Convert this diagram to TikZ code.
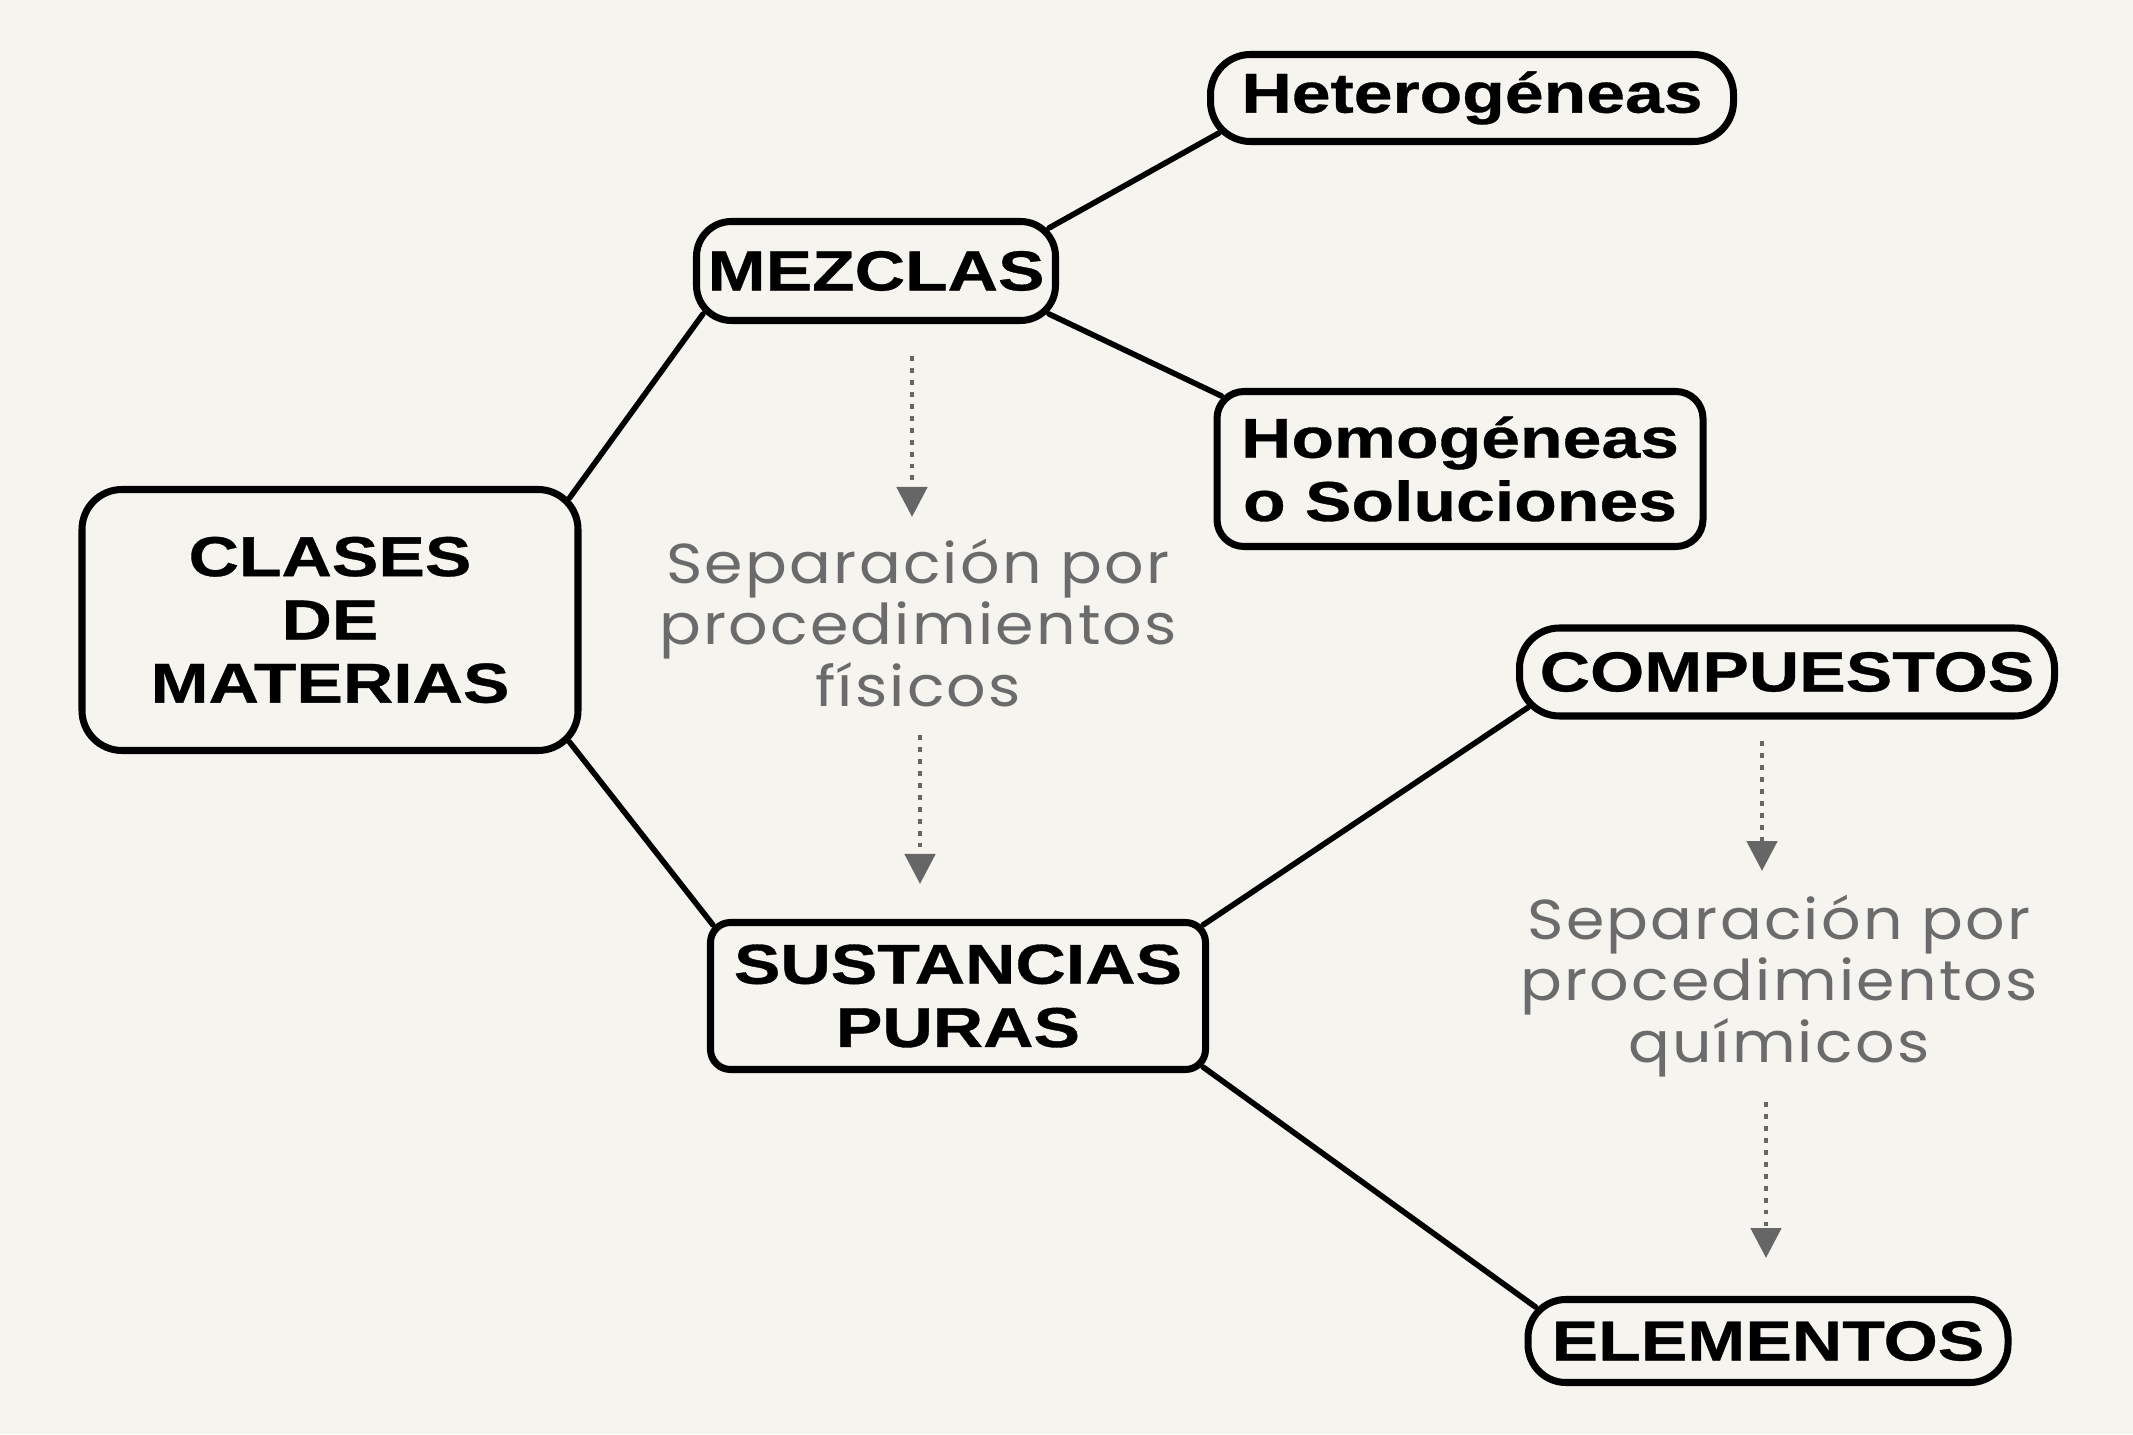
\documentclass[tikz,border=0pt]{standalone}
\usepackage{fontspec}
\setmainfont{Liberation Sans}
\newfontfamily\boxfont[FakeStretch=1.24,FakeBold=0.6]{Liberation Sans}
\newfontfamily\sepfont[FakeStretch=1.1,LetterSpace=4]{Poppins}
\usetikzlibrary{arrows.meta,calc}
\definecolor{paper}{RGB}{246,244,239}
\tikzset{
  concept/.style={draw=black,line width=2pt,fill=paper,align=center,inner sep=0pt,
    font=\boxfont\bfseries\fontsize{16}{18}\selectfont},
  link/.style={draw=black,line width=1.6pt,line cap=round},
  septext/.style={align=center,text=black!58,font=\sepfont\fontsize{16}{17.6}\selectfont},
  separrow/.style={draw=black!60,line width=1.4pt,dotted,-{Triangle[length=3mm,width=3mm]}}
}

\begin{document}
\begin{tikzpicture}
  % paper
  \fill[paper] (0,0) rectangle (21.33,14.34);
  \useasboundingbox (0,0) rectangle (21.33,14.34);
  % boxes
  \node (clases) [concept, rounded corners=4mm, minimum width=4.96cm, minimum height=2.61cm] at (3.30,8.14) {CLASES\\DE\\MATERIAS};
  \node (mezclas) [concept, rounded corners=3.5mm, minimum width=3.59cm, minimum height=0.99cm] at (8.76,11.63) {MEZCLAS};
  \node (hetero) [concept, rounded corners=4mm, minimum width=5.23cm, minimum height=0.87cm] at (14.72,13.36) {Heterogéneas};
  \node (homo) [concept, rounded corners=2.7mm, minimum width=4.86cm, minimum height=1.55cm] at (14.60,9.65) {Homogéneas\\o Soluciones};
  \node (sustancias) [concept, rounded corners=2mm, minimum width=4.95cm, minimum height=1.47cm] at (9.58,4.38) {SUSTANCIAS\\PURAS};
  \node (compuestos) [concept, rounded corners=4mm, minimum width=5.35cm, minimum height=0.88cm] at (17.87,7.62) {COMPUESTOS};
  \node (elementos) [concept, rounded corners=3.8mm, minimum width=4.80cm, minimum height=0.83cm] at (17.68,0.93) {ELEMENTOS};
  % separation labels
  \node (fisicos) [septext] at (9.18,8.11) {Separación por\\procedimientos\\físicos};
  \node (quimicos) [septext] at (17.79,4.48) {Separación por\\procedimientos\\químicos};
  % links
  \draw[link] ($(clases.north east)+(-1.2mm,-1.2mm)$) -- ($(mezclas.south west)+(1mm,1mm)$);
  \draw[link] ($(clases.south east)+(-1.2mm,1.2mm)$) -- ($(sustancias.north west)+(0.6mm,-0.6mm)$);
  \draw[link] ($(mezclas.north east)+(-1mm,-1mm)$) -- ($(hetero.south west)+(1.2mm,1.2mm)$);
  \draw[link] ($(mezclas.south east)+(-1mm,1mm)$) -- ($(homo.north west)+(0.8mm,-0.8mm)$);
  \draw[link] ($(sustancias.north east)+(-0.6mm,-0.6mm)$) -- ($(compuestos.south west)+(1.2mm,1.2mm)$);
  \draw[link] ($(sustancias.south east)+(-0.6mm,0.6mm)$) -- ($(elementos.north west)+(1.1mm,-1.1mm)$);
  % separation arrows
  \draw[separrow] ($(fisicos)+(-0.06,2.67)$) -- ($(fisicos)+(-0.06,1.06)$);
  \draw[separrow] ($(fisicos)+(0.02,-1.12)$) -- ($(fisicos)+(0.02,-2.61)$);
  \draw[separrow] ($(quimicos)+(-0.17,2.45)$) -- ($(quimicos)+(-0.17,1.15)$);
  \draw[separrow] ($(quimicos)+(-0.13,-1.16)$) -- ($(quimicos)+(-0.13,-2.72)$);
\end{tikzpicture}
\end{document}
